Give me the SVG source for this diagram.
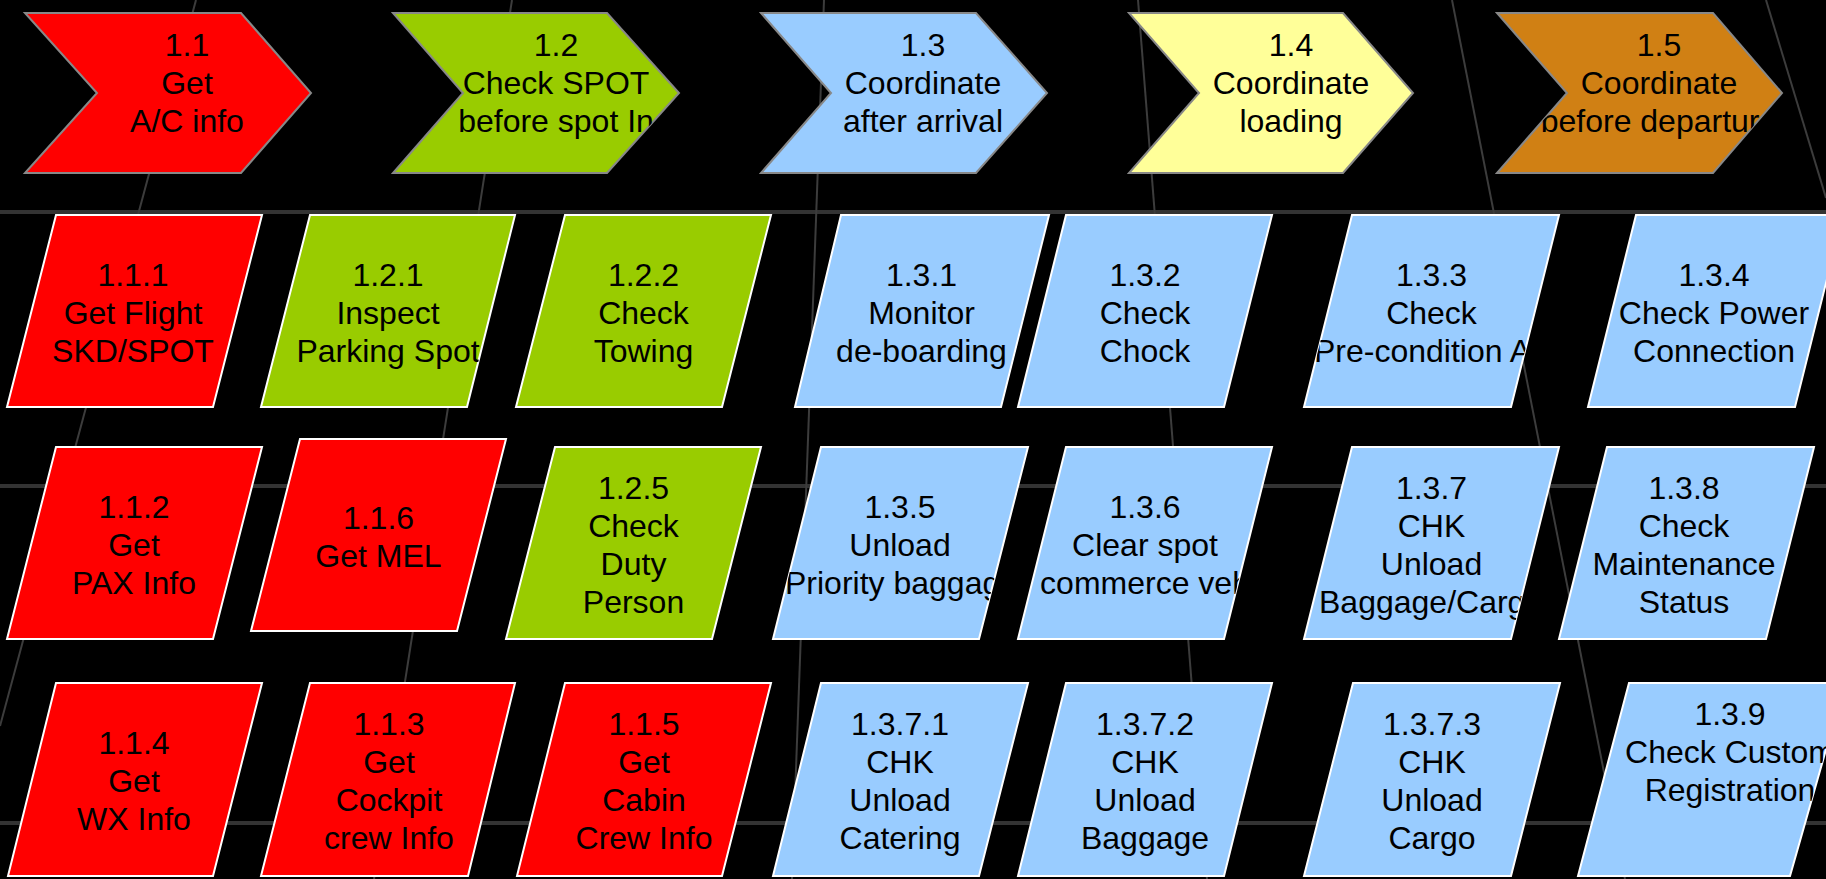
<svg xmlns="http://www.w3.org/2000/svg" xmlns:xlink="http://www.w3.org/1999/xlink" width="1826" height="879" viewBox="0 0 1826 879">
<style>
.lane{stroke:#333;stroke-width:4}
.conn line{stroke:#3c3c3c;stroke-width:2;fill:none}
.chev{stroke:#888;stroke-width:2}
.para{stroke:#fff;stroke-width:2}
.red{fill:#ff0000}.grn{fill:#99cc00}.blu{fill:#99ccff}.yel{fill:#ffff99}.org{fill:#d08014}
text{font-family:"Liberation Sans",Arial,sans-serif;font-size:32px;fill:#000;text-anchor:middle}
.s{text-anchor:start}
</style>
<defs>
<polygon id="s11" points="25,13 241,13 311,93 241,173 25,173 97,93"/>
<polygon id="s12" points="393,13 607,13 679,93 607,173 393,173 463,93"/>
<polygon id="s13" points="761,13 976,13 1047,93 976,173 761,173 831,93"/>
<polygon id="s14" points="1129,13 1343,13 1413,93 1343,173 1129,173 1199,93"/>
<polygon id="s15" points="1497,13 1713,13 1782,93 1713,173 1497,173 1567,93"/>
<polygon id="s111" points="56,215 262,215 213,407 7,407"/>
<polygon id="s121" points="310,215 515,215 467,407 261,407"/>
<polygon id="s122" points="565,215 771,215 722,407 516,407"/>
<polygon id="s131" points="841,215 1049,215 1001,407 795,407"/>
<polygon id="s132" points="1066,215 1272,215 1224,407 1018,407"/>
<polygon id="s133" points="1352,215 1559,215 1511,407 1304,407"/>
<polygon id="s134" points="1636,215 1843,215 1795,407 1588,407"/>
<polygon id="s112" points="56,447 262,447 213,639 7,639"/>
<polygon id="s116" points="300,439 506,439 457,631 251,631"/>
<polygon id="s125" points="555,447 761,447 712,639 506,639"/>
<polygon id="s135" points="821,447 1028,447 979,639 773,639"/>
<polygon id="s136" points="1066,447 1272,447 1224,639 1018,639"/>
<polygon id="s137" points="1352,447 1559,447 1511,639 1304,639"/>
<polygon id="s138" points="1607,447 1814,447 1766,639 1559,639"/>
<polygon id="s114" points="56,683 262,683 213,876 8,876"/>
<polygon id="s113" points="310,683 515,683 468,876 261,876"/>
<polygon id="s115" points="565,683 771,683 722,876 517,876"/>
<polygon id="s1371" points="821,683 1028,683 979,876 773,876"/>
<polygon id="s1372" points="1066,683 1272,683 1224,876 1018,876"/>
<polygon id="s1373" points="1353,683 1560,683 1511,876 1304,876"/>
<polygon id="s139" points="1629,683 1845,683 1790,876 1578,876"/>
<clipPath id="c11"><use xlink:href="#s11"/></clipPath>
<clipPath id="c12"><use xlink:href="#s12"/></clipPath>
<clipPath id="c13"><use xlink:href="#s13"/></clipPath>
<clipPath id="c14"><use xlink:href="#s14"/></clipPath>
<clipPath id="c15"><use xlink:href="#s15"/></clipPath>
<clipPath id="c111"><use xlink:href="#s111"/></clipPath>
<clipPath id="c121"><use xlink:href="#s121"/></clipPath>
<clipPath id="c122"><use xlink:href="#s122"/></clipPath>
<clipPath id="c131"><use xlink:href="#s131"/></clipPath>
<clipPath id="c132"><use xlink:href="#s132"/></clipPath>
<clipPath id="c133"><use xlink:href="#s133"/></clipPath>
<clipPath id="c134"><use xlink:href="#s134"/></clipPath>
<clipPath id="c112"><use xlink:href="#s112"/></clipPath>
<clipPath id="c116"><use xlink:href="#s116"/></clipPath>
<clipPath id="c125"><use xlink:href="#s125"/></clipPath>
<clipPath id="c135"><use xlink:href="#s135"/></clipPath>
<clipPath id="c136"><use xlink:href="#s136"/></clipPath>
<clipPath id="c137"><use xlink:href="#s137"/></clipPath>
<clipPath id="c138"><use xlink:href="#s138"/></clipPath>
<clipPath id="c114"><use xlink:href="#s114"/></clipPath>
<clipPath id="c113"><use xlink:href="#s113"/></clipPath>
<clipPath id="c115"><use xlink:href="#s115"/></clipPath>
<clipPath id="c1371"><use xlink:href="#s1371"/></clipPath>
<clipPath id="c1372"><use xlink:href="#s1372"/></clipPath>
<clipPath id="c1373"><use xlink:href="#s1373"/></clipPath>
<clipPath id="c139"><use xlink:href="#s139"/></clipPath>
</defs>
<rect x="0" y="0" width="1826" height="879" fill="#000"/>
<g id="lanes">
<line class="lane" x1="0" y1="212" x2="1826" y2="212"/>
<line class="lane" x1="0" y1="486" x2="1826" y2="486"/>
<line class="lane" x1="0" y1="823" x2="1826" y2="823"/>
</g>
<g id="connectors" class="conn">
<line x1="196" y1="0" x2="0" y2="726"/>
<line x1="512" y1="0" x2="374" y2="879"/>
<line x1="824" y1="0" x2="792" y2="879"/>
<line x1="1138" y1="0" x2="1207" y2="879"/>
<line x1="1452" y1="0" x2="1625" y2="879"/>
<line x1="1766" y1="0" x2="1826" y2="198"/>
</g>
<g id="n1-1"><use xlink:href="#s11" class="chev red"/><g clip-path="url(#c11)"><text x="187" y="56">1.1</text><text x="187" y="94">Get</text><text x="187" y="132">A/C info</text></g></g>
<g id="n1-2"><use xlink:href="#s12" class="chev grn"/><g clip-path="url(#c12)"><text x="556" y="56">1.2</text><text x="556" y="94">Check SPOT</text><text x="556" y="132">before spot In</text></g></g>
<g id="n1-3"><use xlink:href="#s13" class="chev blu"/><g clip-path="url(#c13)"><text x="923" y="56">1.3</text><text x="923" y="94">Coordinate</text><text x="923" y="132">after arrival</text></g></g>
<g id="n1-4"><use xlink:href="#s14" class="chev yel"/><g clip-path="url(#c14)"><text x="1291" y="56">1.4</text><text x="1291" y="94">Coordinate</text><text x="1291" y="132">loading</text></g></g>
<g id="n1-5"><use xlink:href="#s15" class="chev org"/><g clip-path="url(#c15)"><text x="1659" y="56">1.5</text><text x="1659" y="94">Coordinate</text><text x="1659" y="132">before departure</text></g></g>

<g id="n1-1-1"><use xlink:href="#s111" class="para red"/><g clip-path="url(#c111)"><text x="133" y="285.5">1.1.1</text><text x="133" y="323.5">Get Flight</text><text x="133" y="361.5">SKD/SPOT</text></g></g>
<g id="n1-2-1"><use xlink:href="#s121" class="para grn"/><g clip-path="url(#c121)"><text x="388" y="285.5">1.2.1</text><text x="388" y="323.5">Inspect</text><text x="388" y="361.5">Parking Spot</text></g></g>
<g id="n1-2-2"><use xlink:href="#s122" class="para grn"/><g clip-path="url(#c122)"><text x="643.5" y="285.5">1.2.2</text><text x="643.5" y="323.5">Check</text><text x="643.5" y="361.5">Towing</text></g></g>
<g id="n1-3-1"><use xlink:href="#s131" class="para blu"/><g clip-path="url(#c131)"><text x="921.5" y="285.5">1.3.1</text><text x="921.5" y="323.5">Monitor</text><text x="921.5" y="361.5">de-boarding</text></g></g>
<g id="n1-3-2"><use xlink:href="#s132" class="para blu"/><g clip-path="url(#c132)"><text x="1145" y="285.5">1.3.2</text><text x="1145" y="323.5">Check</text><text x="1145" y="361.5">Chock</text></g></g>
<g id="n1-3-3"><use xlink:href="#s133" class="para blu"/><g clip-path="url(#c133)"><text x="1431.5" y="285.5">1.3.3</text><text x="1431.5" y="323.5">Check</text><text class="s" x="1314" y="361.5">Pre-condition A</text></g></g>
<g id="n1-3-4"><use xlink:href="#s134" class="para blu"/><g clip-path="url(#c134)"><text x="1714" y="285.5">1.3.4</text><text x="1714" y="323.5">Check Power</text><text x="1714" y="361.5">Connection</text></g></g>

<g id="n1-1-2"><use xlink:href="#s112" class="para red"/><g clip-path="url(#c112)"><text x="134" y="517.5">1.1.2</text><text x="134" y="555.5">Get</text><text x="134" y="593.5">PAX Info</text></g></g>
<g id="n1-1-6"><use xlink:href="#s116" class="para red"/><g clip-path="url(#c116)"><text x="378.5" y="528.5">1.1.6</text><text x="378.5" y="566.5">Get MEL</text></g></g>
<g id="n1-2-5"><use xlink:href="#s125" class="para grn"/><g clip-path="url(#c125)"><text x="633.5" y="498.5">1.2.5</text><text x="633.5" y="536.5">Check</text><text x="633.5" y="574.5">Duty</text><text x="633.5" y="612.5">Person</text></g></g>
<g id="n1-3-5"><use xlink:href="#s135" class="para blu"/><g clip-path="url(#c135)"><text x="900" y="517.5">1.3.5</text><text x="900" y="555.5">Unload</text><text class="s" x="785" y="593.5">Priority baggag</text></g></g>
<g id="n1-3-6"><use xlink:href="#s136" class="para blu"/><g clip-path="url(#c136)"><text x="1145" y="517.5">1.3.6</text><text x="1145" y="555.5">Clear spot</text><text x="1145" y="593.5">commerce veh</text></g></g>
<g id="n1-3-7"><use xlink:href="#s137" class="para blu"/><g clip-path="url(#c137)"><text x="1431.5" y="498.5">1.3.7</text><text x="1431.5" y="536.5">CHK</text><text x="1431.5" y="574.5">Unload</text><text class="s" x="1319" y="612.5">Baggage/Carg</text></g></g>
<g id="n1-3-8"><use xlink:href="#s138" class="para blu"/><g clip-path="url(#c138)"><text x="1684" y="498.5">1.3.8</text><text x="1684" y="536.5">Check</text><text x="1684" y="574.5">Maintenance</text><text x="1684" y="612.5">Status</text></g></g>

<g id="n1-1-4"><use xlink:href="#s114" class="para red"/><g clip-path="url(#c114)"><text x="134" y="754">1.1.4</text><text x="134" y="792">Get</text><text x="134" y="830">WX Info</text></g></g>
<g id="n1-1-3"><use xlink:href="#s113" class="para red"/><g clip-path="url(#c113)"><text x="389" y="735">1.1.3</text><text x="389" y="773">Get</text><text x="389" y="811">Cockpit</text><text x="389" y="849">crew Info</text></g></g>
<g id="n1-1-5"><use xlink:href="#s115" class="para red"/><g clip-path="url(#c115)"><text x="644" y="735">1.1.5</text><text x="644" y="773">Get</text><text x="644" y="811">Cabin</text><text x="644" y="849">Crew Info</text></g></g>
<g id="n1-3-7-1"><use xlink:href="#s1371" class="para blu"/><g clip-path="url(#c1371)"><text x="900" y="735">1.3.7.1</text><text x="900" y="773">CHK</text><text x="900" y="811">Unload</text><text x="900" y="849">Catering</text></g></g>
<g id="n1-3-7-2"><use xlink:href="#s1372" class="para blu"/><g clip-path="url(#c1372)"><text x="1145" y="735">1.3.7.2</text><text x="1145" y="773">CHK</text><text x="1145" y="811">Unload</text><text x="1145" y="849">Baggage</text></g></g>
<g id="n1-3-7-3"><use xlink:href="#s1373" class="para blu"/><g clip-path="url(#c1373)"><text x="1432" y="735">1.3.7.3</text><text x="1432" y="773">CHK</text><text x="1432" y="811">Unload</text><text x="1432" y="849">Cargo</text></g></g>
<g id="n1-3-9"><use xlink:href="#s139" class="para blu"/><g clip-path="url(#c139)"><text x="1730" y="725">1.3.9</text><text x="1730" y="763">Check Custom</text><text x="1730" y="801">Registration</text></g></g>
</svg>
